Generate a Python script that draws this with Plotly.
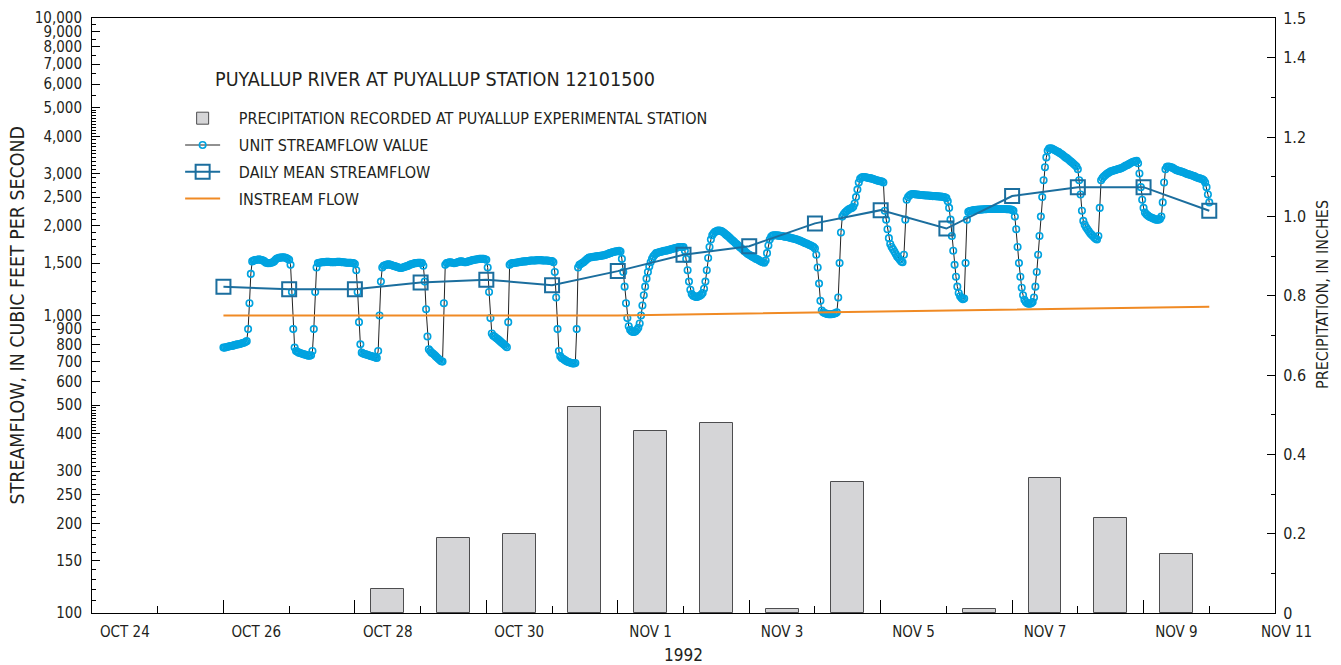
import pandas as pd
import plotly.graph_objects as go

# ---------------- data ----------------
precip_days = pd.date_range("1992-10-24 12:00", "1992-11-10 12:00", freq="D")
precip_in = [0, 0, 0, 0, 0.06, 0.19, 0.20, 0.52, 0.46, 0.48, 0.01, 0.33, 0, 0.01, 0.34, 0.24, 0.15, 0]

daily_dates = pd.date_range("1992-10-26", "1992-11-10", freq="D")
daily_mean = [1250, 1225, 1225, 1290, 1320, 1265, 1410, 1600, 1710, 2040, 2260, 1960, 2520, 2700, 2700, 2250]

instream_dates = ["1992-10-26", "1992-11-01", "1992-11-10"]
instream_cfs = [1000, 1000, 1070]

# unit (30-minute) streamflow values, one list per day, cfs
oct26 = [780, 780, 782, 785, 787, 790, 790, 792, 795, 797, 800, 800, 802, 805, 808, 810, 815, 820,
         900, 1100, 1380, 1520,
         1530, 1535, 1540, 1540, 1545, 1540, 1535, 1530, 1520,
         1505, 1500, 1500, 1500, 1505, 1510, 1520, 1540,
         1555, 1560, 1565, 1565, 1570, 1570, 1565, 1560, 1550]
oct27 = [1540, 1480, 1200, 900, 780, 760,
         755, 750, 748, 745, 742, 740, 738, 735, 733, 732, 735,
         760, 900, 1200, 1450, 1500,
         1505, 1508, 1510, 1512, 1512, 1515, 1515, 1515, 1512, 1510, 1510, 1510, 1512, 1515, 1515, 1515,
         1512, 1510, 1510, 1508, 1505, 1505, 1505, 1505, 1500, 1500]
oct28 = [1490, 1420, 1200, 950, 800, 750,
         745, 742, 740, 738, 735, 732, 730, 728, 725, 722, 720,
         760, 1000, 1300, 1450,
         1470, 1475, 1480, 1485, 1485, 1480, 1475, 1470, 1465, 1460, 1455, 1450, 1445, 1445, 1450, 1455,
         1460, 1465, 1470, 1480, 1485, 1490, 1495, 1500, 1500, 1505, 1505]
oct29 = [1505, 1500, 1470, 1300, 1050, 850, 770, 760,
         750, 745, 738, 730, 722, 715, 708, 702,
         700, 1100, 1480,
         1500, 1505, 1510, 1510, 1505, 1500, 1500, 1505, 1510, 1515, 1520, 1520, 1515, 1510, 1510, 1515,
         1520, 1525, 1530, 1535, 1540, 1540, 1545, 1545, 1550, 1550, 1550, 1550, 1545]
oct30 = [1540, 1450, 1200, 980, 870, 855,
         850, 842, 835, 828, 820, 812, 805, 798, 790, 782,
         950, 1480,
         1495, 1500, 1500, 1505, 1505, 1510, 1510, 1515, 1515, 1520, 1520, 1520, 1525, 1525, 1530, 1530,
         1530, 1530, 1530, 1535, 1535, 1535, 1535, 1530, 1530, 1530, 1530, 1530, 1525, 1525]
oct31 = [1525, 1510, 1400, 1150, 900, 760, 730,
         720, 715, 710, 705, 700, 698, 695, 692, 690, 690, 692,
         900, 1450,
         1480, 1490, 1500, 1510, 1525, 1540, 1555, 1565, 1570, 1570, 1575, 1575, 1580, 1580, 1585, 1585,
         1590, 1590, 1595, 1600, 1605, 1610, 1620, 1625, 1630, 1635, 1640, 1645]
nov01 = [1645, 1650, 1640, 1550, 1400, 1250, 1100, 980, 920,
         895, 885, 880, 880, 885, 895, 910,
         940, 1000, 1080, 1170, 1250, 1330, 1400, 1460, 1510, 1550, 1580, 1600, 1620,
         1625, 1630, 1635, 1640, 1645, 1650, 1650, 1655, 1660, 1665, 1670, 1675, 1680, 1685, 1690, 1695,
         1700, 1700, 1700]
nov02 = [1700, 1650, 1550, 1420, 1300, 1220, 1180,
         1165, 1160, 1155, 1155, 1160, 1165, 1175, 1190,
         1230, 1300, 1420, 1560, 1700, 1800, 1860,
         1890, 1910, 1920, 1930, 1930, 1925, 1920,
         1905, 1890, 1870, 1855, 1840, 1820, 1800, 1785, 1770, 1750, 1735, 1720, 1700, 1685, 1670, 1655,
         1640, 1625, 1610]
nov03 = [1600, 1590, 1580, 1570, 1560, 1550, 1545, 1535, 1525, 1515, 1510, 1505, 1530, 1620, 1720, 1800,
         1840,
         1855, 1860, 1860, 1860, 1855, 1855, 1850, 1850, 1845, 1840, 1840, 1835, 1830, 1825, 1820, 1815,
         1810, 1805, 1800, 1790, 1785, 1775, 1770, 1760, 1750, 1745, 1735, 1725, 1720, 1710, 1700]
nov04 = [1680, 1600, 1450, 1280, 1120, 1040,
         1025, 1020, 1015, 1012, 1010, 1010, 1010, 1012, 1015, 1018, 1025,
         1150, 1500, 1900, 2150,
         2190, 2220, 2240, 2260, 2280, 2290, 2300, 2320,
         2380, 2500, 2650, 2800, 2880,
         2910, 2920, 2920, 2915, 2910, 2900, 2895, 2890, 2880, 2870, 2860, 2850, 2840, 2830]
nov05 = [2825, 2820, 2800, 2250, 2100, 1950, 1820, 1740,
         1700, 1670, 1640, 1610, 1580, 1560, 1540, 1520, 1510,
         1600, 2100, 2450,
         2500, 2530, 2550, 2560, 2560, 2555, 2550, 2550, 2545, 2540, 2540, 2535, 2535, 2530, 2530, 2530,
         2525, 2525, 2520, 2520, 2520, 2515, 2515, 2510, 2510, 2505, 2500, 2495]
nov06 = [2480, 2420, 2300, 2100, 1850, 1650, 1480, 1350, 1250, 1190, 1160, 1145, 1135, 1140,
         1500, 2100, 2230,
         2245, 2250, 2255, 2260, 2260, 2265, 2265, 2270, 2270, 2270, 2275, 2275, 2275, 2280, 2280, 2280,
         2280, 2280, 2280, 2280, 2280, 2280, 2280, 2280, 2280, 2280, 2280, 2275, 2275, 2275, 2270]
nov07 = [2265, 2250, 2150, 1950, 1700, 1500, 1350, 1240, 1170, 1130,
         1110, 1100, 1095, 1095, 1100, 1110,
         1150, 1250, 1400, 1600, 1850, 2150, 2500, 2850, 3150, 3400, 3580,
         3640, 3650, 3640, 3620, 3600, 3580, 3560, 3540, 3510, 3490, 3460, 3430, 3400, 3380, 3350, 3320,
         3290, 3260, 3230, 3200, 3170]
nov08 = [3100, 2850, 2550, 2250, 2080,
         2020, 1980, 1950, 1920, 1890, 1870, 1850, 1830, 1810, 1800,
         1850, 2300, 2850,
         2900, 2930, 2960, 2990, 3010, 3030, 3050, 3060, 3070, 3080, 3090, 3100, 3110, 3120, 3130, 3150,
         3170, 3190, 3200, 3220, 3240, 3260, 3280, 3290, 3300, 3310,
         3250, 3000, 2700, 2450]
nov09 = [2300, 2220, 2190, 2170, 2150, 2140, 2130, 2120, 2110, 2100, 2100, 2100, 2110, 2150, 2400, 2800,
         3100,
         3160, 3170, 3160, 3150, 3140, 3120, 3100, 3080, 3070, 3060, 3050, 3040, 3030, 3020, 3000, 2990,
         2980, 2970, 2960, 2950, 2940, 2920, 2910, 2900, 2890, 2880, 2870,
         2850, 2800, 2700, 2550]
nov10 = [2400]

unit_cfs = (oct26 + oct27 + oct28 + oct29 + oct30 + oct31 + nov01 + nov02 + nov03 + nov04 +
            nov05 + nov06 + nov07 + nov08 + nov09 + nov10)
unit_times = pd.date_range("1992-10-26 00:00", periods=len(unit_cfs), freq="30min")

# axis labels
x_label_days = pd.date_range("1992-10-24 12:00", "1992-11-09 12:00", freq="2D")
x_label_text = ["OCT 24", "OCT 26", "OCT 28", "OCT 30", "NOV 1", "NOV 3", "NOV 5", "NOV 7", "NOV 9"]
x_major_ticks = pd.date_range("1992-10-26", "1992-11-09", freq="2D")
x_minor_ticks = pd.date_range("1992-10-25", "1992-11-10", freq="2D")

y_tick_vals = [100, 150, 200, 250, 300, 400, 500, 600, 700, 800, 900, 1000, 1500, 2000, 2500, 3000,
               4000, 5000, 6000, 7000, 8000, 9000, 10000]
y_tick_text = ["100", "150", "200", "250", "300", "400", "500", "600", "700", "800", "900", "1,000",
               "1,500", "2,000", "2,500", "3,000", "4,000", "5,000", "6,000", "7,000", "8,000", "9,000",
               "10,000"]
y_minor_vals = ([v for v in range(110, 500, 10) if v not in y_tick_vals] +
                [v for v in range(550, 1000, 50) if v not in y_tick_vals] +
                [v for v in range(1100, 5000, 100) if v not in y_tick_vals] +
                [v for v in range(5500, 10000, 500) if v not in y_tick_vals])

y2_tick_vals = [0, 0.2, 0.4, 0.6, 0.8, 1.0, 1.2, 1.4, 1.5]
y2_tick_text = ["0", "0.2", "0.4", "0.6", "0.8", "1.0", "1.2", "1.4", "1.5"]
y2_minor_vals = [0.1, 0.3, 0.5, 0.7, 0.9, 1.1, 1.3]

# ---------------- style ----------------
FONT = "Liberation Sans Narrow, Arial Narrow, DejaVu Sans Condensed, sans-serif"
TXT = "#231f20"
CYAN = "#00a3e0"
BLUE = "#1b6e9e"
ORANGE = "#f08a24"
PAD = "\u00a0\u00a0\u00a0"

fig = go.Figure()
fig.add_trace(go.Bar(
    x=precip_days, y=[v if v > 0 else None for v in precip_in], yaxis="y2",
    width=12 * 3600 * 1000, legendgroup="g1",
    marker=dict(color="#d5d5d7", line=dict(color="#4d4d4f", width=1)),
    name=PAD + "PRECIPITATION RECORDED AT PUYALLUP EXPERIMENTAL STATION"))
fig.add_trace(go.Scatter(
    x=unit_times, y=unit_cfs, mode="lines+markers", legendgroup="g2",
    line=dict(color="#222222", width=1),
    marker=dict(symbol="circle-open", size=6.5, color=CYAN, line=dict(width=1.6, color=CYAN)),
    name=PAD + "UNIT STREAMFLOW VALUE"))
fig.add_trace(go.Scatter(
    x=daily_dates, y=daily_mean, mode="lines+markers", legendgroup="g3",
    line=dict(color=BLUE, width=2),
    marker=dict(symbol="square-open", size=14, color=BLUE, line=dict(width=2, color=BLUE)),
    name=PAD + "DAILY MEAN STREAMFLOW"))
fig.add_trace(go.Scatter(
    x=instream_dates, y=instream_cfs, mode="lines", xaxis="x2", legendgroup="g4",
    line=dict(color=ORANGE, width=2),
    name=PAD + "INSTREAM FLOW"))

x_range = ["1992-10-24 00:00", "1992-11-11 00:00"]
axis_common = dict(showgrid=False, zeroline=False, linecolor="black", linewidth=1,
                   tickcolor="black", automargin=False)

fig.update_layout(
    width=1341, height=665,
    margin=dict(l=92, r=66, t=18, b=52),
    paper_bgcolor="white", plot_bgcolor="white",
    font=dict(family=FONT, size=15, color=TXT),
    bargap=0,
    xaxis=dict(type="date", range=x_range, tickmode="array", tickvals=x_label_days,
               ticktext=x_label_text, ticks="", showline=True, mirror=True,
               ticklabelstandoff=5, tickfont=dict(family=FONT, size=15, color=TXT),
               title=dict(text="1992", font=dict(family=FONT, size=17, color=TXT), standoff=9),
               **axis_common),
    xaxis2=dict(type="date", range=x_range, overlaying="x", anchor="y", side="bottom",
                tickmode="array", tickvals=x_major_ticks, ticks="inside", ticklen=13,
                showticklabels=False, showline=False, showgrid=False, zeroline=False,
                tickcolor="black", automargin=False,
                minor=dict(tickmode="array", tickvals=x_minor_ticks, ticks="inside",
                           ticklen=7, tickcolor="black", showgrid=False)),
    yaxis=dict(type="log", range=[2, 4], tickmode="array", tickvals=y_tick_vals,
               ticktext=y_tick_text, ticks="inside", ticklen=8, showline=True,
               ticklabelstandoff=6, tickfont=dict(family=FONT, size=15, color=TXT),
               minor=dict(tickmode="array", tickvals=y_minor_vals, ticks="inside",
                          ticklen=4, tickcolor="black", showgrid=False),
               **axis_common),
    yaxis2=dict(overlaying="y", side="right", range=[0, 1.5], tickmode="array",
                tickvals=y2_tick_vals, ticktext=y2_tick_text, ticks="inside", ticklen=8,
                showline=True, ticklabelstandoff=4, tickfont=dict(family=FONT, size=16, color=TXT),
                minor=dict(tickmode="array", tickvals=y2_minor_vals, ticks="inside",
                           ticklen=4, tickcolor="black", showgrid=False),
                **axis_common),
    legend=dict(x=0.0745, y=0.86, xanchor="left", yanchor="top", bgcolor="rgba(0,0,0,0)",
                font=dict(family=FONT, size=16, color=TXT), itemwidth=35, traceorder="grouped",
                tracegroupgap=3),
    annotations=[
        dict(text="PUYALLUP RIVER AT PUYALLUP STATION 12101500", xref="paper", yref="paper",
             x=0.1025, y=0.896, xanchor="left", yanchor="middle", showarrow=False,
             font=dict(family=FONT, size=19.6, color=TXT)),
        dict(text="STREAMFLOW, IN CUBIC FEET PER SECOND", xref="paper", yref="paper",
             x=-0.0626, y=0.5, xanchor="center", yanchor="middle", textangle=-90,
             showarrow=False, font=dict(family=FONT, size=19.4, color=TXT)),
        dict(text="PRECIPITATION, IN INCHES", xref="paper", yref="paper",
             x=1.0397, y=0.536, xanchor="center", yanchor="middle", textangle=-90,
             showarrow=False, font=dict(family=FONT, size=16, color=TXT)),
        dict(text="NOV 11", xref="paper", yref="paper", x=1.0101, y=-0.032,
             xanchor="center", yanchor="middle", showarrow=False,
             font=dict(family=FONT, size=15, color=TXT)),
    ],
)

fig.write_html("out.html", config={"displayModeBar": False},
               post_script="document.body.style.margin='0px';")
